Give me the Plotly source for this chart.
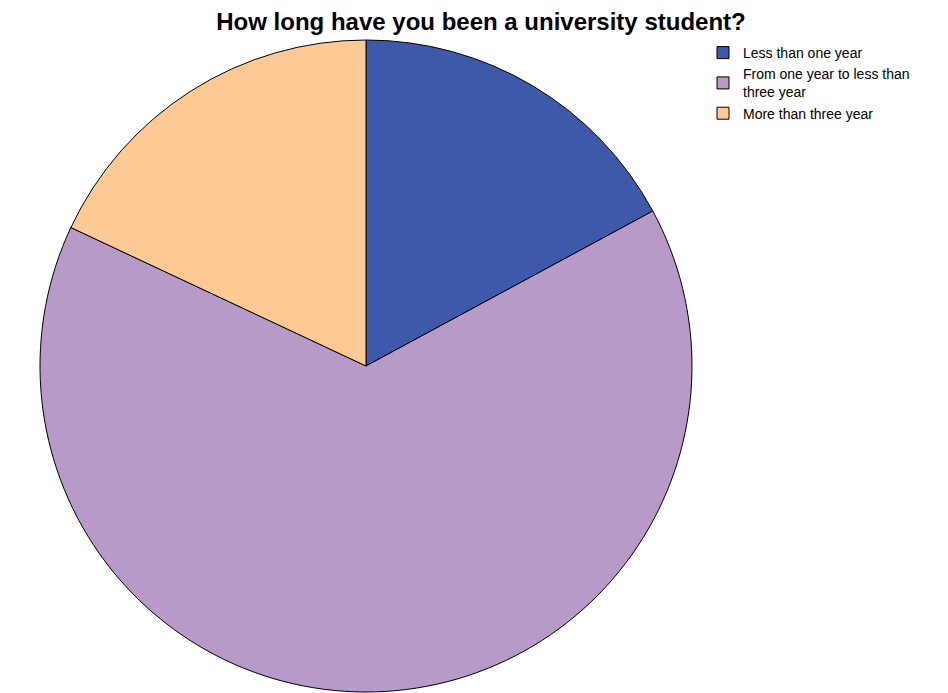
import plotly.graph_objects as go

categories = ["Less than one year", "From one year to less than<br>three year", "More than three year"]
counts = [19, 72, 20]
colors = ["#3E58AA", "#B79AC8", "#FFC996"]

W, H = 948, 693
cx, cy, r = 366, 366, 326

fig = go.Figure(go.Pie(
    labels=categories,
    values=counts,
    sort=False,
    direction="clockwise",
    rotation=0,
    textinfo="none",
    hoverinfo="label+percent",
    marker=dict(colors=colors, line=dict(color="#000000", width=1)),
    domain=dict(x=[(cx - r) / W, (cx + r) / W], y=[(H - cy - r) / H, (H - cy + r) / H]),
))

fig.update_layout(
    width=W, height=H,
    margin=dict(l=0, r=0, t=0, b=0),
    paper_bgcolor="white",
    plot_bgcolor="white",
    font=dict(family="Liberation Sans, Arial, sans-serif", color="#000000"),
    title=dict(text="<b>How long have you been a university student?</b>",
               x=481 / W, xanchor="center", y=1 - 22 / H, yanchor="middle",
               font=dict(size=24, family="Liberation Sans, Arial, sans-serif")),
    legend=dict(x=703 / W, xanchor="left", y=1 - 37 / H, yanchor="top",
                font=dict(size=14), itemwidth=30, tracegroupgap=0,
                bgcolor="rgba(0,0,0,0)"),
)

fig.write_html("out.html")
